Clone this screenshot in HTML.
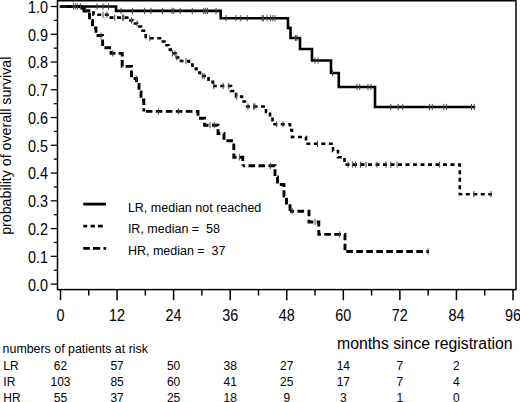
<!DOCTYPE html>
<html><head><meta charset="utf-8"><style>
html,body{margin:0;padding:0;background:#fff;width:520px;height:402px;overflow:hidden}
svg{display:block}
text{font-family:"Liberation Sans", sans-serif;fill:#000}
</style></head><body>
<svg width="520" height="402" viewBox="0 0 520 402">
<rect x="57.5" y="0.75" width="458.5" height="288.85" fill="none" stroke="#000" stroke-width="1.5"/>
<line x1="50.8" y1="284.10" x2="57.5" y2="284.10" stroke="#000" stroke-width="1.3"/>
<text transform="translate(48,290.50) scale(0.96,1.1)" text-anchor="end" font-size="15">0.0</text>
<line x1="50.8" y1="256.34" x2="57.5" y2="256.34" stroke="#000" stroke-width="1.3"/>
<text transform="translate(48,262.74) scale(0.96,1.1)" text-anchor="end" font-size="15">0.1</text>
<line x1="50.8" y1="228.58" x2="57.5" y2="228.58" stroke="#000" stroke-width="1.3"/>
<text transform="translate(48,234.98) scale(0.96,1.1)" text-anchor="end" font-size="15">0.2</text>
<line x1="50.8" y1="200.82" x2="57.5" y2="200.82" stroke="#000" stroke-width="1.3"/>
<text transform="translate(48,207.22) scale(0.96,1.1)" text-anchor="end" font-size="15">0.3</text>
<line x1="50.8" y1="173.06" x2="57.5" y2="173.06" stroke="#000" stroke-width="1.3"/>
<text transform="translate(48,179.46) scale(0.96,1.1)" text-anchor="end" font-size="15">0.4</text>
<line x1="50.8" y1="145.30" x2="57.5" y2="145.30" stroke="#000" stroke-width="1.3"/>
<text transform="translate(48,151.70) scale(0.96,1.1)" text-anchor="end" font-size="15">0.5</text>
<line x1="50.8" y1="117.54" x2="57.5" y2="117.54" stroke="#000" stroke-width="1.3"/>
<text transform="translate(48,123.94) scale(0.96,1.1)" text-anchor="end" font-size="15">0.6</text>
<line x1="50.8" y1="89.78" x2="57.5" y2="89.78" stroke="#000" stroke-width="1.3"/>
<text transform="translate(48,96.18) scale(0.96,1.1)" text-anchor="end" font-size="15">0.7</text>
<line x1="50.8" y1="62.02" x2="57.5" y2="62.02" stroke="#000" stroke-width="1.3"/>
<text transform="translate(48,68.42) scale(0.96,1.1)" text-anchor="end" font-size="15">0.8</text>
<line x1="50.8" y1="34.26" x2="57.5" y2="34.26" stroke="#000" stroke-width="1.3"/>
<text transform="translate(48,40.66) scale(0.96,1.1)" text-anchor="end" font-size="15">0.9</text>
<line x1="50.8" y1="6.50" x2="57.5" y2="6.50" stroke="#000" stroke-width="1.3"/>
<text transform="translate(48,12.90) scale(0.96,1.1)" text-anchor="end" font-size="15">1.0</text>
<line x1="53.8" y1="270.22" x2="57.5" y2="270.22" stroke="#000" stroke-width="1.3"/>
<line x1="53.8" y1="242.46" x2="57.5" y2="242.46" stroke="#000" stroke-width="1.3"/>
<line x1="53.8" y1="214.70" x2="57.5" y2="214.70" stroke="#000" stroke-width="1.3"/>
<line x1="53.8" y1="186.94" x2="57.5" y2="186.94" stroke="#000" stroke-width="1.3"/>
<line x1="53.8" y1="159.18" x2="57.5" y2="159.18" stroke="#000" stroke-width="1.3"/>
<line x1="53.8" y1="131.42" x2="57.5" y2="131.42" stroke="#000" stroke-width="1.3"/>
<line x1="53.8" y1="103.66" x2="57.5" y2="103.66" stroke="#000" stroke-width="1.3"/>
<line x1="53.8" y1="75.90" x2="57.5" y2="75.90" stroke="#000" stroke-width="1.3"/>
<line x1="53.8" y1="48.14" x2="57.5" y2="48.14" stroke="#000" stroke-width="1.3"/>
<line x1="53.8" y1="20.38" x2="57.5" y2="20.38" stroke="#000" stroke-width="1.3"/>
<line x1="60.50" y1="289.6" x2="60.50" y2="300.2" stroke="#000" stroke-width="1.5"/>
<text transform="translate(60.50,320.8) scale(0.96,1.1)" text-anchor="middle" font-size="15">0</text>
<line x1="117.06" y1="289.6" x2="117.06" y2="300.2" stroke="#000" stroke-width="1.5"/>
<text transform="translate(117.06,320.8) scale(0.96,1.1)" text-anchor="middle" font-size="15">12</text>
<line x1="173.62" y1="289.6" x2="173.62" y2="300.2" stroke="#000" stroke-width="1.5"/>
<text transform="translate(173.62,320.8) scale(0.96,1.1)" text-anchor="middle" font-size="15">24</text>
<line x1="230.19" y1="289.6" x2="230.19" y2="300.2" stroke="#000" stroke-width="1.5"/>
<text transform="translate(230.19,320.8) scale(0.96,1.1)" text-anchor="middle" font-size="15">36</text>
<line x1="286.75" y1="289.6" x2="286.75" y2="300.2" stroke="#000" stroke-width="1.5"/>
<text transform="translate(286.75,320.8) scale(0.96,1.1)" text-anchor="middle" font-size="15">48</text>
<line x1="343.31" y1="289.6" x2="343.31" y2="300.2" stroke="#000" stroke-width="1.5"/>
<text transform="translate(343.31,320.8) scale(0.96,1.1)" text-anchor="middle" font-size="15">60</text>
<line x1="399.88" y1="289.6" x2="399.88" y2="300.2" stroke="#000" stroke-width="1.5"/>
<text transform="translate(399.88,320.8) scale(0.96,1.1)" text-anchor="middle" font-size="15">72</text>
<line x1="456.44" y1="289.6" x2="456.44" y2="300.2" stroke="#000" stroke-width="1.5"/>
<text transform="translate(456.44,320.8) scale(0.96,1.1)" text-anchor="middle" font-size="15">84</text>
<line x1="513.00" y1="289.6" x2="513.00" y2="300.2" stroke="#000" stroke-width="1.5"/>
<text transform="translate(513.00,320.8) scale(0.96,1.1)" text-anchor="middle" font-size="15">96</text>
<line x1="88.78" y1="289.6" x2="88.78" y2="295.5" stroke="#000" stroke-width="1.5"/>
<line x1="145.34" y1="289.6" x2="145.34" y2="295.5" stroke="#000" stroke-width="1.5"/>
<line x1="201.91" y1="289.6" x2="201.91" y2="295.5" stroke="#000" stroke-width="1.5"/>
<line x1="258.47" y1="289.6" x2="258.47" y2="295.5" stroke="#000" stroke-width="1.5"/>
<line x1="315.03" y1="289.6" x2="315.03" y2="295.5" stroke="#000" stroke-width="1.5"/>
<line x1="371.59" y1="289.6" x2="371.59" y2="295.5" stroke="#000" stroke-width="1.5"/>
<line x1="428.16" y1="289.6" x2="428.16" y2="295.5" stroke="#000" stroke-width="1.5"/>
<line x1="484.72" y1="289.6" x2="484.72" y2="295.5" stroke="#000" stroke-width="1.5"/>
<path d="M59.70,6.50 L116.00,6.50 L116.00,10.90 L220.70,10.90 L220.70,18.20 L288.00,18.20 L288.00,28.00 L290.50,28.00 L290.50,38.00 L300.00,38.00 L300.00,49.00 L312.00,49.00 L312.00,60.50 L331.00,60.50 L331.00,73.00 L338.80,73.00 L338.80,87.00 L375.00,87.00 L375.00,107.00 L475.20,107.00" fill="none" stroke="#000" stroke-width="2.6"/>
<path d="M60.50,6.50 L80.00,6.50 L80.00,8.50 L85.00,8.50 L85.00,10.50 L89.00,10.50 L89.00,12.50 L93.50,12.50 L93.50,14.80 L109.50,14.80 L109.50,17.60 L129.00,17.60 L129.00,20.50 L133.00,20.50 L133.00,23.50 L137.00,23.50 L137.00,26.50 L141.00,26.50 L141.00,30.80 L145.70,30.80 L145.70,38.20" fill="none" stroke="#000" stroke-width="2.6" stroke-dasharray="4 3.5" stroke-dashoffset="7.40"/>
<path d="M145.70,38.20 L161.50,38.20 L161.50,41.50 L164.50,41.50 L164.50,45.30 L168.50,45.30 L168.50,49.50 L170.80,49.50 L170.80,53.40 L175.50,53.40 L175.50,57.50 L181.00,57.50 L181.00,61.00 L189.00,61.00 L189.00,64.50 L192.50,64.50 L192.50,68.50 L196.50,68.50 L196.50,72.50 L200.00,72.50 L200.00,76.00 L208.50,76.00 L208.50,81.80 L213.00,81.80 L213.00,86.00" fill="none" stroke="#000" stroke-width="2.6" stroke-dasharray="4 3.5" stroke-dashoffset="3.40"/>
<path d="M213.00,86.00 L231.00,86.00 L231.00,91.00 L236.00,91.00 L236.00,96.50 L242.00,96.50 L242.00,101.50 L245.00,101.50 L245.00,106.50" fill="none" stroke="#000" stroke-width="2.6" stroke-dasharray="4 3.5" stroke-dashoffset="0.20"/>
<path d="M245.00,106.50 L266.00,106.50 L266.00,112.00 L270.00,112.00 L270.00,117.50 L272.50,117.50 L272.50,124.20" fill="none" stroke="#000" stroke-width="2.6" stroke-dasharray="4 3.5" stroke-dashoffset="6.50"/>
<path d="M272.50,124.20 L290.00,124.20 L290.00,130.00 L292.00,130.00 L292.00,137.00 L306.00,137.00 L306.00,143.80" fill="none" stroke="#000" stroke-width="2.6" stroke-dasharray="4 3.5" stroke-dashoffset="6.70"/>
<path d="M306.00,143.80 L333.00,143.80 L333.00,151.00 L338.00,151.00 L338.00,157.30 L344.50,157.30 L344.50,164.60" fill="none" stroke="#000" stroke-width="2.6" stroke-dasharray="4 3.5" stroke-dashoffset="7.20"/>
<path d="M344.50,164.60 L459.80,164.60 L459.80,194.30 L491.80,194.30" fill="none" stroke="#000" stroke-width="2.6" stroke-dasharray="4 3.5" stroke-dashoffset="6.50"/>
<path d="M60.50,6.50 L84.00,6.50 L84.00,11.00 L89.50,11.00 L89.50,20.50 L92.50,20.50 L92.50,28.00 L96.00,28.00 L96.00,35.50 L102.60,35.50 L102.60,47.70 L111.00,47.70 L111.00,53.40 L122.20,53.40 L122.20,66.40 L131.50,66.40 L131.50,78.50 L136.50,78.50 L136.50,84.50 L139.00,84.50 L139.00,92.00 L141.00,92.00 L141.00,100.00 L143.80,100.00 L143.80,111.40" fill="none" stroke="#000" stroke-width="2.9" stroke-dasharray="6.6 3.4" stroke-dashoffset="4.90"/>
<path d="M143.80,111.40 L198.00,111.40 L198.00,118.20 L204.50,118.20 L204.50,125.20 L218.00,125.20 L218.00,133.50 L224.00,133.50 L224.00,140.80 L233.80,140.80 L233.80,157.30 L242.80,157.30 L242.80,165.80" fill="none" stroke="#000" stroke-width="2.9" stroke-dasharray="6.6 3.4" stroke-dashoffset="8.00"/>
<path d="M242.80,165.80 L275.00,165.80 L275.00,177.00 L277.50,177.00 L277.50,184.50 L284.00,184.50 L284.00,196.00 L286.50,196.00 L286.50,203.00 L290.00,203.00 L290.00,211.20" fill="none" stroke="#000" stroke-width="2.9" stroke-dasharray="6.6 3.4" stroke-dashoffset="4.30"/>
<path d="M290.00,211.20 L309.00,211.20 L309.00,222.00 L318.80,222.00 L318.80,234.40 L345.00,234.40 L345.00,251.50" fill="none" stroke="#000" stroke-width="2.9" stroke-dasharray="6.6 3.4" stroke-dashoffset="2.50"/>
<path d="M345.00,251.50 L429.00,251.50" fill="none" stroke="#000" stroke-width="2.9" stroke-dasharray="6.6 3.4" stroke-dashoffset="8.70"/>
<line x1="73.5" y1="3.4" x2="73.5" y2="9.6" stroke="#444" stroke-width="1"/>
<line x1="75.4" y1="3.4" x2="75.4" y2="9.6" stroke="#444" stroke-width="1"/>
<line x1="77.3" y1="3.4" x2="77.3" y2="9.6" stroke="#444" stroke-width="1"/>
<line x1="80.4" y1="3.4" x2="80.4" y2="9.6" stroke="#444" stroke-width="1"/>
<line x1="97.0" y1="3.4" x2="97.0" y2="9.6" stroke="#444" stroke-width="1"/>
<line x1="103.0" y1="3.4" x2="103.0" y2="9.6" stroke="#444" stroke-width="1"/>
<line x1="108.5" y1="3.4" x2="108.5" y2="9.6" stroke="#444" stroke-width="1"/>
<line x1="121.0" y1="7.8" x2="121.0" y2="14.0" stroke="#444" stroke-width="1"/>
<line x1="132.5" y1="7.8" x2="132.5" y2="14.0" stroke="#444" stroke-width="1"/>
<line x1="144.6" y1="7.8" x2="144.6" y2="14.0" stroke="#444" stroke-width="1"/>
<line x1="151.0" y1="7.8" x2="151.0" y2="14.0" stroke="#444" stroke-width="1"/>
<line x1="162.5" y1="7.8" x2="162.5" y2="14.0" stroke="#444" stroke-width="1"/>
<line x1="172.0" y1="7.8" x2="172.0" y2="14.0" stroke="#444" stroke-width="1"/>
<line x1="173.8" y1="7.8" x2="173.8" y2="14.0" stroke="#444" stroke-width="1"/>
<line x1="180.2" y1="7.8" x2="180.2" y2="14.0" stroke="#444" stroke-width="1"/>
<line x1="192.3" y1="7.8" x2="192.3" y2="14.0" stroke="#444" stroke-width="1"/>
<line x1="203.8" y1="7.8" x2="203.8" y2="14.0" stroke="#444" stroke-width="1"/>
<line x1="205.6" y1="7.8" x2="205.6" y2="14.0" stroke="#444" stroke-width="1"/>
<line x1="207.5" y1="7.8" x2="207.5" y2="14.0" stroke="#444" stroke-width="1"/>
<line x1="216.0" y1="7.8" x2="216.0" y2="14.0" stroke="#444" stroke-width="1"/>
<line x1="226.0" y1="15.1" x2="226.0" y2="21.3" stroke="#444" stroke-width="1"/>
<line x1="235.8" y1="15.1" x2="235.8" y2="21.3" stroke="#444" stroke-width="1"/>
<line x1="240.8" y1="15.1" x2="240.8" y2="21.3" stroke="#444" stroke-width="1"/>
<line x1="247.2" y1="15.1" x2="247.2" y2="21.3" stroke="#444" stroke-width="1"/>
<line x1="262.0" y1="15.1" x2="262.0" y2="21.3" stroke="#444" stroke-width="1"/>
<line x1="263.5" y1="15.1" x2="263.5" y2="21.3" stroke="#444" stroke-width="1"/>
<line x1="267.0" y1="15.1" x2="267.0" y2="21.3" stroke="#444" stroke-width="1"/>
<line x1="270.6" y1="15.1" x2="270.6" y2="21.3" stroke="#444" stroke-width="1"/>
<line x1="272.8" y1="15.1" x2="272.8" y2="21.3" stroke="#444" stroke-width="1"/>
<line x1="275.0" y1="15.1" x2="275.0" y2="21.3" stroke="#444" stroke-width="1"/>
<line x1="295.5" y1="34.9" x2="295.5" y2="41.1" stroke="#444" stroke-width="1"/>
<line x1="297.0" y1="34.9" x2="297.0" y2="41.1" stroke="#444" stroke-width="1"/>
<line x1="315.0" y1="57.4" x2="315.0" y2="63.6" stroke="#444" stroke-width="1"/>
<line x1="318.0" y1="57.4" x2="318.0" y2="63.6" stroke="#444" stroke-width="1"/>
<line x1="332.5" y1="69.9" x2="332.5" y2="76.1" stroke="#444" stroke-width="1"/>
<line x1="357.0" y1="83.9" x2="357.0" y2="90.1" stroke="#444" stroke-width="1"/>
<line x1="359.7" y1="83.9" x2="359.7" y2="90.1" stroke="#444" stroke-width="1"/>
<line x1="368.0" y1="83.9" x2="368.0" y2="90.1" stroke="#444" stroke-width="1"/>
<line x1="371.0" y1="83.9" x2="371.0" y2="90.1" stroke="#444" stroke-width="1"/>
<line x1="390.8" y1="103.9" x2="390.8" y2="110.1" stroke="#444" stroke-width="1"/>
<line x1="398.2" y1="103.9" x2="398.2" y2="110.1" stroke="#444" stroke-width="1"/>
<line x1="402.8" y1="103.9" x2="402.8" y2="110.1" stroke="#444" stroke-width="1"/>
<line x1="429.5" y1="103.9" x2="429.5" y2="110.1" stroke="#444" stroke-width="1"/>
<line x1="432.3" y1="103.9" x2="432.3" y2="110.1" stroke="#444" stroke-width="1"/>
<line x1="443.8" y1="103.9" x2="443.8" y2="110.1" stroke="#444" stroke-width="1"/>
<line x1="446.6" y1="103.9" x2="446.6" y2="110.1" stroke="#444" stroke-width="1"/>
<line x1="471.5" y1="103.9" x2="471.5" y2="110.1" stroke="#444" stroke-width="1"/>
<line x1="474.3" y1="103.9" x2="474.3" y2="110.1" stroke="#444" stroke-width="1"/>
<line x1="103.0" y1="11.7" x2="103.0" y2="17.9" stroke="#444" stroke-width="1"/>
<line x1="107.0" y1="11.7" x2="107.0" y2="17.9" stroke="#444" stroke-width="1"/>
<line x1="114.7" y1="14.5" x2="114.7" y2="20.7" stroke="#444" stroke-width="1"/>
<line x1="122.4" y1="14.5" x2="122.4" y2="20.7" stroke="#444" stroke-width="1"/>
<line x1="123.7" y1="14.5" x2="123.7" y2="20.7" stroke="#444" stroke-width="1"/>
<line x1="131.5" y1="17.4" x2="131.5" y2="23.6" stroke="#444" stroke-width="1"/>
<line x1="137.0" y1="20.4" x2="137.0" y2="26.6" stroke="#444" stroke-width="1"/>
<line x1="149.7" y1="35.1" x2="149.7" y2="41.3" stroke="#444" stroke-width="1"/>
<line x1="172.4" y1="50.3" x2="172.4" y2="56.5" stroke="#444" stroke-width="1"/>
<line x1="175.0" y1="50.3" x2="175.0" y2="56.5" stroke="#444" stroke-width="1"/>
<line x1="176.8" y1="54.4" x2="176.8" y2="60.6" stroke="#444" stroke-width="1"/>
<line x1="186.0" y1="57.9" x2="186.0" y2="64.1" stroke="#444" stroke-width="1"/>
<line x1="202.3" y1="72.9" x2="202.3" y2="79.1" stroke="#444" stroke-width="1"/>
<line x1="204.2" y1="72.9" x2="204.2" y2="79.1" stroke="#444" stroke-width="1"/>
<line x1="213.7" y1="82.9" x2="213.7" y2="89.1" stroke="#444" stroke-width="1"/>
<line x1="223.0" y1="82.9" x2="223.0" y2="89.1" stroke="#444" stroke-width="1"/>
<line x1="228.7" y1="82.9" x2="228.7" y2="89.1" stroke="#444" stroke-width="1"/>
<line x1="236.8" y1="93.4" x2="236.8" y2="99.6" stroke="#444" stroke-width="1"/>
<line x1="248.0" y1="103.4" x2="248.0" y2="109.6" stroke="#444" stroke-width="1"/>
<line x1="253.6" y1="103.4" x2="253.6" y2="109.6" stroke="#444" stroke-width="1"/>
<line x1="254.8" y1="103.4" x2="254.8" y2="109.6" stroke="#444" stroke-width="1"/>
<line x1="276.7" y1="121.1" x2="276.7" y2="127.3" stroke="#444" stroke-width="1"/>
<line x1="283.0" y1="121.1" x2="283.0" y2="127.3" stroke="#444" stroke-width="1"/>
<line x1="317.5" y1="140.7" x2="317.5" y2="146.9" stroke="#444" stroke-width="1"/>
<line x1="348.0" y1="161.5" x2="348.0" y2="167.7" stroke="#444" stroke-width="1"/>
<line x1="352.4" y1="161.5" x2="352.4" y2="167.7" stroke="#444" stroke-width="1"/>
<line x1="355.5" y1="161.5" x2="355.5" y2="167.7" stroke="#444" stroke-width="1"/>
<line x1="360.5" y1="161.5" x2="360.5" y2="167.7" stroke="#444" stroke-width="1"/>
<line x1="366.0" y1="161.5" x2="366.0" y2="167.7" stroke="#444" stroke-width="1"/>
<line x1="377.0" y1="161.5" x2="377.0" y2="167.7" stroke="#444" stroke-width="1"/>
<line x1="386.0" y1="161.5" x2="386.0" y2="167.7" stroke="#444" stroke-width="1"/>
<line x1="390.8" y1="161.5" x2="390.8" y2="167.7" stroke="#444" stroke-width="1"/>
<line x1="397.0" y1="161.5" x2="397.0" y2="167.7" stroke="#444" stroke-width="1"/>
<line x1="439.6" y1="161.5" x2="439.6" y2="167.7" stroke="#444" stroke-width="1"/>
<line x1="473.8" y1="191.2" x2="473.8" y2="197.4" stroke="#444" stroke-width="1"/>
<line x1="491.0" y1="191.2" x2="491.0" y2="197.4" stroke="#444" stroke-width="1"/>
<line x1="101.0" y1="32.4" x2="101.0" y2="38.6" stroke="#444" stroke-width="1"/>
<line x1="112.8" y1="50.3" x2="112.8" y2="56.5" stroke="#444" stroke-width="1"/>
<line x1="136.2" y1="75.4" x2="136.2" y2="81.6" stroke="#444" stroke-width="1"/>
<line x1="158.5" y1="108.3" x2="158.5" y2="114.5" stroke="#444" stroke-width="1"/>
<line x1="178.4" y1="108.3" x2="178.4" y2="114.5" stroke="#444" stroke-width="1"/>
<line x1="210.0" y1="122.1" x2="210.0" y2="128.3" stroke="#444" stroke-width="1"/>
<line x1="214.3" y1="122.1" x2="214.3" y2="128.3" stroke="#444" stroke-width="1"/>
<line x1="239.4" y1="154.2" x2="239.4" y2="160.4" stroke="#444" stroke-width="1"/>
<line x1="270.4" y1="162.7" x2="270.4" y2="168.9" stroke="#444" stroke-width="1"/>
<line x1="292.2" y1="208.1" x2="292.2" y2="214.3" stroke="#444" stroke-width="1"/>
<line x1="315.0" y1="218.9" x2="315.0" y2="225.1" stroke="#444" stroke-width="1"/>
<line x1="339.6" y1="231.3" x2="339.6" y2="237.5" stroke="#444" stroke-width="1"/>
<line x1="428.0" y1="248.4" x2="428.0" y2="254.6" stroke="#444" stroke-width="1"/>
<line x1="83.3" y1="204.1" x2="105.9" y2="204.1" stroke="#000" stroke-width="2.8"/>
<path d="M83.2,226.1 H87.2 M90.6,226.1 H94.9 M97.9,226.1 H102.8" stroke="#000" stroke-width="2.6"/>
<path d="M83.2,248.4 H89.9 M92.9,248.4 H100.2 M103.5,248.4 H106.2" stroke="#000" stroke-width="2.7"/>
<text x="127.9" y="211.6" font-size="12.5">LR, median not reached</text>
<text x="127.9" y="232.8" font-size="12.5" xml:space="preserve">IR, median =  58</text>
<text x="127.9" y="254.7" font-size="12.5" xml:space="preserve">HR, median =  37</text>
<text transform="translate(10.7,234.8) rotate(-90)" font-size="14.2">probability of overall survival</text>
<text x="2.6" y="352.8" font-size="12.4">numbers of patients at risk</text>
<text x="337" y="349.3" font-size="15.8">months since registration</text>
<text x="3.3" y="369.9" font-size="12">LR</text>
<text x="60.50" y="369.9" text-anchor="middle" font-size="12">62</text>
<text x="117.06" y="369.9" text-anchor="middle" font-size="12">57</text>
<text x="173.62" y="369.9" text-anchor="middle" font-size="12">50</text>
<text x="230.19" y="369.9" text-anchor="middle" font-size="12">38</text>
<text x="286.75" y="369.9" text-anchor="middle" font-size="12">27</text>
<text x="343.31" y="369.9" text-anchor="middle" font-size="12">14</text>
<text x="399.88" y="369.9" text-anchor="middle" font-size="12">7</text>
<text x="456.44" y="369.9" text-anchor="middle" font-size="12">2</text>
<text x="3.3" y="385.9" font-size="12">IR</text>
<text x="60.50" y="385.9" text-anchor="middle" font-size="12">103</text>
<text x="117.06" y="385.9" text-anchor="middle" font-size="12">85</text>
<text x="173.62" y="385.9" text-anchor="middle" font-size="12">60</text>
<text x="230.19" y="385.9" text-anchor="middle" font-size="12">41</text>
<text x="286.75" y="385.9" text-anchor="middle" font-size="12">25</text>
<text x="343.31" y="385.9" text-anchor="middle" font-size="12">17</text>
<text x="399.88" y="385.9" text-anchor="middle" font-size="12">7</text>
<text x="456.44" y="385.9" text-anchor="middle" font-size="12">4</text>
<text x="3.3" y="401.9" font-size="12">HR</text>
<text x="60.50" y="401.9" text-anchor="middle" font-size="12">55</text>
<text x="117.06" y="401.9" text-anchor="middle" font-size="12">37</text>
<text x="173.62" y="401.9" text-anchor="middle" font-size="12">25</text>
<text x="230.19" y="401.9" text-anchor="middle" font-size="12">18</text>
<text x="286.75" y="401.9" text-anchor="middle" font-size="12">9</text>
<text x="343.31" y="401.9" text-anchor="middle" font-size="12">3</text>
<text x="399.88" y="401.9" text-anchor="middle" font-size="12">1</text>
<text x="456.44" y="401.9" text-anchor="middle" font-size="12">0</text>
</svg>
</body></html>
